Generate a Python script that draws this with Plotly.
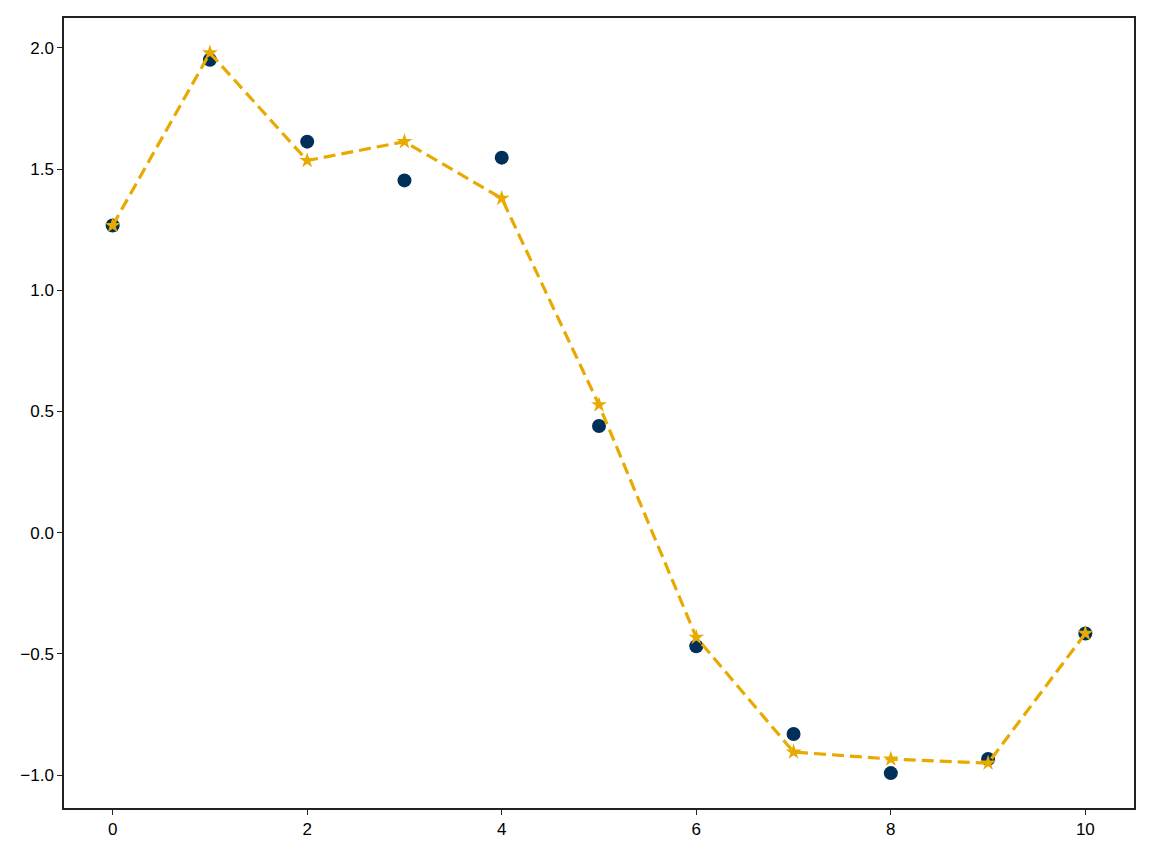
import plotly.graph_objects as go

x = list(range(11))
y_data = [1.267, 1.951, 1.613, 1.453, 1.547, 0.440, -0.469, -0.831, -0.992, -0.934, -0.416]
y_fit = [1.267, 1.979, 1.535, 1.613, 1.379, 0.527, -0.432, -0.905, -0.934, -0.951, -0.416]

fig = go.Figure()
fig.add_trace(go.Scatter(x=x, y=y_data, mode="markers",
                         marker=dict(color="#00305a", size=14)))
fig.add_trace(go.Scatter(x=x, y=y_fit, mode="lines+markers",
                         line=dict(color="#e8a900", width=3.2, dash="12px,6px"),
                         marker=dict(symbol="star", color="#e8a900", size=12)))

axis_style = dict(showgrid=False, zeroline=False, showline=True, linecolor="#222",
                  linewidth=1.5, mirror=True, ticks="outside", ticklen=5,
                  tickwidth=1.2, tickcolor="#222",
                  tickfont=dict(family="Liberation Sans, Arial", size=17, color="black"))
fig.update_xaxes(range=[-0.5, 10.5], tickvals=[0, 2, 4, 6, 8, 10], **axis_style)
fig.update_yaxes(range=[-1.136, 2.123], tickvals=[-1.0, -0.5, 0.0, 0.5, 1.0, 1.5, 2.0],
                 ticktext=["\u22121.0", "\u22120.5", "0.0", "0.5", "1.0", "1.5", "2.0"],
                 **axis_style)
fig.update_layout(width=1149, height=849, showlegend=False,
                  plot_bgcolor="white", paper_bgcolor="white",
                  margin=dict(l=56, r=23, t=8, b=49))
fig.write_html("out.html")
